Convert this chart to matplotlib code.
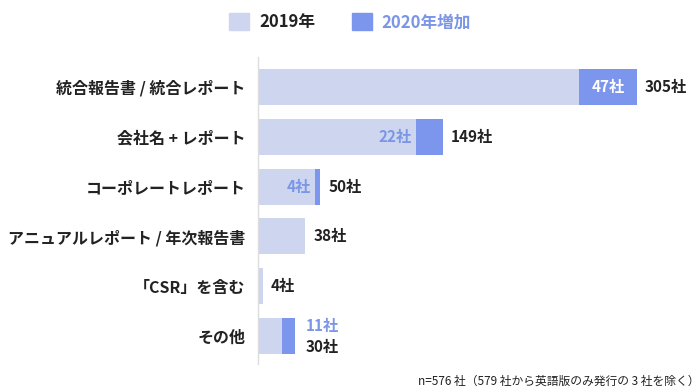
import matplotlib
matplotlib.use("Agg")
import matplotlib.pyplot as plt
from matplotlib.patches import Patch
from matplotlib.transforms import offset_copy

plt.rcParams['font.family'] = ['Noto Sans CJK JP', 'DejaVu Sans']

categories = ["統合報告書 / 統合レポート", "会社名 + レポート", "コーポレートレポート",
              "アニュアルレポート / 年次報告書", "「CSR」を含む", "その他"]
totals = [305, 149, 50, 38, 4, 30]
increase = [47, 22, 4, 0, 0, 11]
base = [t - i for t, i in zip(totals, increase)]

light = "#cdd6ee"
dark = "#7b96ec"
blue_txt = "#7b96e6"
black = "#222222"
fs = 11

fig = plt.figure(figsize=(7, 3.9), dpi=100)
ax = fig.add_axes([258 / 700, 26 / 390, 432 / 700, 307 / 390])

ys = list(range(len(categories)))
ax.barh(ys, base, height=0.72, color=light, linewidth=0)
ax.barh(ys, increase, left=base, height=0.72, color=dark, linewidth=0)

ax.set_xlim(0, 432 / 1.243)
ax.set_ylim(5.56, -0.6)
ax.set_yticks(ys)
ax.set_yticklabels(categories, fontsize=11.5, fontweight="bold", color=black)
ax.tick_params(axis="y", length=0, pad=9)
ax.set_xticks([])
for s in ["top", "right", "bottom"]:
    ax.spines[s].set_visible(False)
ax.spines["left"].set_color("#dddddd")
ax.spines["left"].set_linewidth(1)


def shifted(dx):
    return offset_copy(ax.transData, fig=fig, x=dx, y=0, units="dots")


for y, t, b, inc in zip(ys, totals, base, increase):
    if inc >= 30:
        # wide enough: white label inside the dark part
        ax.text(b + inc / 2, y, f"{inc}社", ha="center", va="center",
                fontsize=fs, fontweight="bold", color="white")
        ax.text(t, y, f"{t}社", ha="left", va="center", fontsize=fs,
                fontweight="bold", color=black, transform=shifted(8))
    elif inc > 0 and b >= 40:
        ax.text(b, y, f"{inc}社", ha="right", va="center", fontsize=fs,
                fontweight="bold", color=blue_txt, transform=shifted(-4))
        ax.text(t, y, f"{t}社", ha="left", va="center", fontsize=fs,
                fontweight="bold", color=black, transform=shifted(8))
    elif inc > 0:
        ax.text(t, y - 0.21, f"{inc}社", ha="left", va="center", fontsize=fs,
                fontweight="bold", color=blue_txt, transform=shifted(10))
        ax.text(t, y + 0.21, f"{t}社", ha="left", va="center", fontsize=fs,
                fontweight="bold", color=black, transform=shifted(10))
    else:
        ax.text(t, y, f"{t}社", ha="left", va="center", fontsize=fs,
                fontweight="bold", color=black, transform=shifted(8))

handles = [Patch(color=light), Patch(color=dark)]
fig.legend(handles, ["2019年", "2020年増加"], loc="center", bbox_to_anchor=(0.5, 0.943),
           ncol=2, frameon=False, handlelength=1.2, handleheight=1.2,
           handletextpad=0.6, columnspacing=2.2,
           prop={"size": 12, "weight": "bold"}, labelcolor=[black, blue_txt])

fig.text(0.999, 0.022, "n=576 社（579 社から英語版のみ発行の 3 社を除く）",
         ha="right", va="center", fontsize=8.5, color=black)

fig.savefig("out.png", dpi=100)
